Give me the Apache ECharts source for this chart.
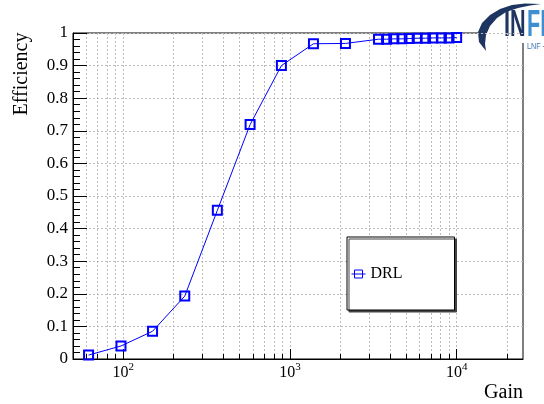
<!DOCTYPE html>
<html>
<head>
<meta charset="utf-8">
<script src="https://cdn.jsdelivr.net/npm/echarts@6/dist/echarts.min.js"></script>
<style>
  html, body { margin: 0; padding: 0; background: #fff; }
  #chart { width: 544px; height: 404px; }
</style>
</head>
<body>
<div id="chart"></div>
<script>
// Detector efficiency versus gain
const gain = [62, 97, 150, 234, 367, 577, 889, 1384, 2153,
              3400, 3800, 4200, 4700, 5200, 5800, 6500, 7200, 8100, 9000, 10000];
const efficiency = [0.012, 0.040, 0.085, 0.193, 0.456, 0.719, 0.900, 0.967, 0.968,
                    0.981, 0.981, 0.982, 0.982, 0.983, 0.984, 0.984, 0.985, 0.985, 0.985, 0.986];
const seriesName = 'DRL';

// Log-axis tick positions: decades get labels, the rest are minor marks
const majorGainTicks = [100, 1000, 10000];
const minorGainTicks = [60, 70, 80, 90,
                        200, 300, 400, 500, 600, 700, 800, 900,
                        2000, 3000, 4000, 5000, 6000, 7000, 8000, 9000,
                        20000];

const SERIF = "'Liberation Serif', 'Times New Roman', serif";
const BLUE = '#0000ff';
const TICK = '#000';
const gridLine = { show: true, lineStyle: { color: '#bdbdbd', width: 1, type: [2, 2] } };

const chart = echarts.init(document.getElementById('chart'), null, { renderer: 'canvas' });

const points = gain.map((g, i) => [g, efficiency[i]]);

// crescent of the logo
const crescent = [
  [486, 51], [479, 42], [478, 32], [482, 23], [490, 15], [500, 9], [512, 5], [525, 3.5], [541, 4],
  [530, 5.5], [518, 8], [506, 12], [497, 18], [490, 26], [486, 35], [485, 44]
];

const option = {
  backgroundColor: '#fff',
  animation: false,
  grid: {
    left: 73, right: 21, top: 33, bottom: 45,
    show: true, borderColor: '#000', borderWidth: 1, backgroundColor: 'transparent'
  },
  xAxis: [
    {
      type: 'log', logBase: 10, min: 50, max: 25000, position: 'bottom',
      axisLine: { show: true, onZero: false, lineStyle: { color: '#000', width: 1 } },
      axisTick: { show: true, inside: true, length: 10, customValues: majorGainTicks,
                  lineStyle: { color: TICK, width: 1 } },
      axisLabel: {
        show: true, customValues: majorGainTicks, margin: 3,
        formatter: v => '{b|10}{s|' + Math.round(Math.log10(v)) + '}',
        rich: {
          b: { fontFamily: SERIF, fontSize: 16, color: '#000', verticalAlign: 'bottom', padding: [3, 0, 0, 0] },
          s: { fontFamily: SERIF, fontSize: 11, color: '#000', verticalAlign: 'top' }
        }
      },
      splitLine: gridLine
    },
    {
      type: 'log', logBase: 10, min: 50, max: 25000, position: 'bottom',
      axisLine: { show: false, onZero: false },
      axisTick: { show: true, inside: true, length: 5, customValues: minorGainTicks,
                  lineStyle: { color: TICK, width: 1 } },
      axisLabel: { show: false },
      splitLine: gridLine
    }
  ],
  yAxis: {
    type: 'value', min: 0, max: 1, interval: 0.1,
    axisLine: { show: true, onZero: false, lineStyle: { color: '#000', width: 1 } },
    axisTick: { show: true, inside: true, length: 14, lineStyle: { color: TICK, width: 1 } },
    minorTick: { show: true, splitNumber: 5, length: 7, lineStyle: { color: TICK, width: 1 } },
    axisLabel: { margin: 5, fontFamily: SERIF, fontSize: 17, color: '#000' },
    splitLine: gridLine
  },
  legend: {
    left: 347, top: 237,
    orient: 'vertical',
    padding: [29, 52, 28, 4],
    backgroundColor: '#fff',
    borderColor: '#000', borderWidth: 1,
    shadowColor: '#444', shadowBlur: 0, shadowOffsetX: 2, shadowOffsetY: 2,
    itemWidth: 14, itemHeight: 10, itemGap: 0,
    itemStyle: { color: 'transparent', borderColor: BLUE, borderWidth: 1 },
    lineStyle: { color: BLUE, width: 1 },
    textStyle: { fontFamily: SERIF, fontSize: 16, color: '#000' },
    data: [seriesName]
  },
  series: [{
    name: seriesName,
    type: 'line',
    xAxisIndex: 0,
    data: points,
    symbol: 'rect',
    symbolSize: 9,
    itemStyle: { color: 'transparent', borderColor: BLUE, borderWidth: 2 },
    lineStyle: { color: BLUE, width: 1 },
    emphasis: { disabled: true },
    z: 5
  }],
  graphic: [
    {
      type: 'text', x: 22, y: 74, rotation: Math.PI / 2,
      style: { text: 'Efficiency', font: '20px ' + SERIF, fill: '#000',
               align: 'center', verticalAlign: 'middle' }
    },
    {
      type: 'text', x: 523, y: 393,
      style: { text: 'Gain', font: '20px ' + SERIF, fill: '#000',
               align: 'right', verticalAlign: 'middle' }
    },
    {
      // institute logo in the corner
      type: 'group', z: 100,
      children: [
        { type: 'rect', shape: { x: 480, y: 0, width: 64, height: 43 }, style: { fill: '#fff' } },
        { type: 'polygon', shape: { points: crescent }, style: { fill: '#1d3560' } },
        { type: 'text', x: 504, y: 26, scaleX: 0.6,
          style: { text: 'I', font: 'bold 36px "Liberation Sans", sans-serif', fill: '#1d3560', verticalAlign: 'middle' } },
        { type: 'text', x: 510, y: 26, scaleX: 0.6,
          style: { text: 'N', font: 'bold 36px "Liberation Sans", sans-serif', fill: '#1d3560', verticalAlign: 'middle' } },
        { type: 'text', x: 527, y: 26, scaleX: 0.6,
          style: { text: 'FN', font: 'bold 36px "Liberation Sans", sans-serif', fill: '#3d8fd1', verticalAlign: 'middle' } },
        { type: 'text', x: 527, y: 47, scaleX: 0.8,
          style: { text: 'LNF - INFN', font: '9px "Liberation Sans", sans-serif', fill: '#3a78b5', verticalAlign: 'middle' } }
      ]
    }
  ]
};

chart.setOption(option);
</script>
</body>
</html>
